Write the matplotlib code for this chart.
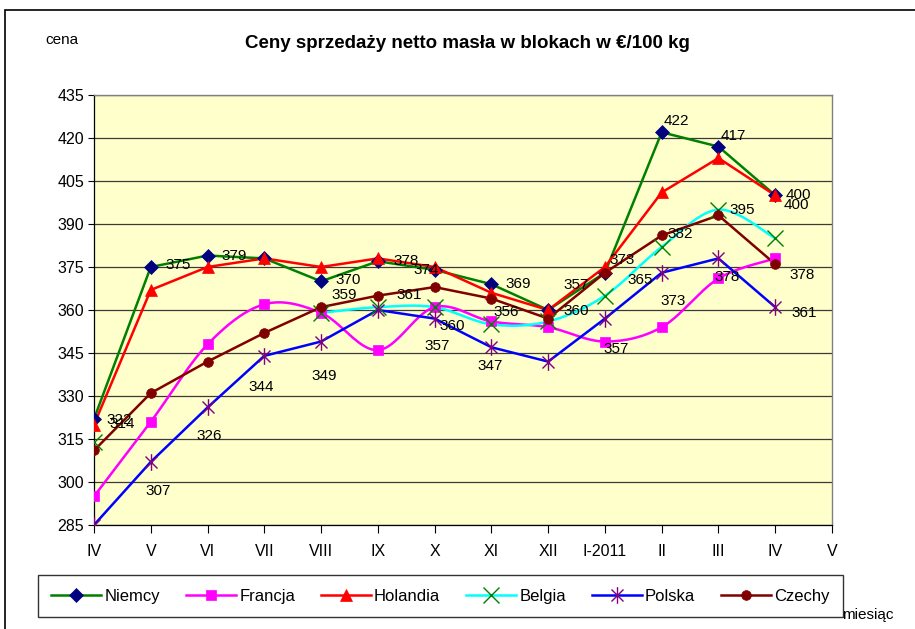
import numpy as np
import matplotlib
matplotlib.use("Agg")
import matplotlib.pyplot as plt
from matplotlib.path import Path
from matplotlib.lines import Line2D
from matplotlib.patches import Rectangle

plt.rcParams['font.family'] = ['Liberation Sans', 'DejaVu Sans']

# ---------------- data ----------------
months = ["IV", "V", "VI", "VII", "VIII", "IX", "X", "XI", "XII", "I-2011", "II", "III", "IV", "V"]
niemcy   = [322, 375, 379, 378, 370, 377, 374, 369, 360, 373, 422, 417, 400]
francja  = [295, 321, 348, 362, 359, 346, 361, 356, 354, 349, 354, 371, 378]
holandia = [320, 367, 375, 378, 375, 378, 375, 366, 360, 375, 401, 413, 400]
belgia   = [314, np.nan, np.nan, np.nan, 359, 361, 361, 355, 356, 365, 382, 395, 385]
polska   = [285, 307, 326, 344, 349, 360, 357, 347, 342, 357, 373, 378, 361]
czechy   = [311, 331, 342, 352, 361, 365, 368, 364, 357, 373, 386, 393, 376]
series_names = ["Niemcy", "Francja", "Holandia", "Belgia", "Polska", "Czechy"]
y_ticks = list(range(285, 436, 15))

# data labels: (series, month index, text, dx px, dy px)
labels = [
    ("Niemcy", 0, "322", 25, -1), ("Belgia", 0, "314", 28, 18),
    ("Niemcy", 1, "375", 27, 2), ("Niemcy", 2, "379", 27, 0),
    ("Niemcy", 4, "370", 27, 1), ("Niemcy", 5, "378", 28, 0),
    ("Niemcy", 6, "374", -8, 0), ("Niemcy", 7, "369", 27, 0),
    ("Niemcy", 8, "360", 28, -1), ("Niemcy", 9, "373", 17, 13),
    ("Niemcy", 10, "422", 15, 11), ("Niemcy", 11, "417", 15, 11),
    ("Niemcy", 12, "400", 23, 0), ("Holandia", 12, "400", 21, -10),
    ("Belgia", 4, "359", 23, 18), ("Belgia", 5, "361", 31, 12),
    ("Belgia", 6, "360", 18, -19), ("Belgia", 7, "356", 15, 12),
    ("Czechy", 8, "357", 28, 34), ("Belgia", 9, "365", 35, 16),
    ("Belgia", 10, "382", 19, 13), ("Belgia", 11, "395", 24, 0),
    ("Francja", 12, "378", 27, -17),
    ("Polska", 1, "307", 7, -29), ("Polska", 2, "326", 2, -29),
    ("Polska", 3, "344", -3, -31), ("Polska", 4, "349", 3, -34),
    ("Polska", 6, "357", 3, -27), ("Polska", 7, "347", -1, -19),
    ("Polska", 9, "357", 11, -30), ("Polska", 10, "373", 11, -28),
    ("Polska", 11, "378", 9, -19), ("Polska", 12, "361", 29, -6),
]

# ---------------- styles ----------------
star = Path([(0, -1), (0, 1), (-0.72, -0.72), (0.72, 0.72), (-0.72, 0.72), (0.72, -0.72)],
            [Path.MOVETO, Path.LINETO] * 3)
styles = {
    "Niemcy":   dict(color="#008000", marker="D", mfc="#000080", mec="#000080", ms=7, mew=0.5, smooth=False),
    "Francja":  dict(color="#FF00FF", marker="s", mfc="#FF00FF", mec="#FF00FF", ms=7, mew=0.5, smooth=True),
    "Holandia": dict(color="#FF0000", marker="^", mfc="#FF0000", mec="#FF0000", ms=9, mew=0.5, smooth=False),
    "Belgia":   dict(color="#00FFFF", marker="x", mfc="none", mec="#008000", ms=11, mew=1.0, smooth=True),
    "Polska":   dict(color="#0000FF", marker=star, mfc="none", mec="#800080", ms=12, mew=1.0, smooth=False),
    "Czechy":   dict(color="#800000", marker="o", mfc="#800000", mec="#800000", ms=7, mew=0.5, smooth=False),
}
data = dict(zip(series_names, [niemcy, francja, holandia, belgia, polska, czechy]))


def smooth_path(xs, ys, n=24):
    """Catmull-Rom style Bezier through the points of each non-NaN run."""
    xs = np.asarray(xs, float)
    ys = np.asarray(ys, float)
    outx, outy = [], []
    good = ~np.isnan(ys)
    runs, cur = [], []
    for i in range(len(ys)):
        if good[i]:
            cur.append(i)
        else:
            if cur:
                runs.append(cur)
            cur = []
    if cur:
        runs.append(cur)
    for run in runs:
        px, py = xs[run], ys[run]
        if len(run) < 2:
            continue
        for k in range(len(run) - 1):
            p0 = np.array([px[max(k - 1, 0)], py[max(k - 1, 0)]])
            p1 = np.array([px[k], py[k]])
            p2 = np.array([px[k + 1], py[k + 1]])
            p3 = np.array([px[min(k + 2, len(run) - 1)], py[min(k + 2, len(run) - 1)]])
            c1 = p1 + (p2 - p0) / 6.0
            c2 = p2 - (p3 - p1) / 6.0
            t = np.linspace(0, 1, n)[:, None]
            b = ((1 - t) ** 3) * p1 + 3 * ((1 - t) ** 2) * t * c1 + 3 * (1 - t) * t ** 2 * c2 + t ** 3 * p2
            outx.extend(b[:, 0])
            outy.extend(b[:, 1])
        outx.append(np.nan)
        outy.append(np.nan)
    return outx, outy


W, H = 915, 629
fig = plt.figure(figsize=(W / 100, H / 100), dpi=100)
fig.patch.set_facecolor("white")
ax = fig.add_axes([94 / W, 1 - 525 / H, (832 - 94) / W, (525 - 95) / H])
ax.set_facecolor("#FFFFCC")

x = np.arange(len(niemcy))
for name in series_names:
    st = styles[name]
    ys = np.asarray(data[name], float)
    if st["smooth"]:
        sx, sy = smooth_path(x, ys)
        ax.plot(sx, sy, color=st["color"], lw=1.8, zorder=3, solid_capstyle="round")
    else:
        ax.plot(x, ys, color=st["color"], lw=1.8, zorder=3)
    ax.plot(x, ys, ls="none", marker=st["marker"], ms=st["ms"], mfc=st["mfc"],
            mec=st["mec"], mew=st["mew"], zorder=4)

for name, i, txt, dx, dy in labels:
    ax.annotate(txt, (x[i], data[name][i]), xytext=(dx, dy), textcoords="offset pixels",
                ha="center", va="center", fontsize=11, color="black", zorder=6)

ax.set_xlim(0, len(months) - 1)
ax.set_ylim(285, 435)
ax.set_xticks(range(len(months)))
ax.set_xticklabels(months, fontsize=11.5)
ax.set_yticks(y_ticks)
ax.set_yticklabels([str(v) for v in y_ticks], fontsize=11.5)
ax.yaxis.grid(True, color="#3a3a3a", lw=0.9)
ax.set_axisbelow(True)
ax.tick_params(axis="x", direction="out", length=5.5, width=0.8, pad=8, colors="black")
ax.tick_params(axis="y", direction="out", length=4, width=0.8, pad=3, colors="black")
for s in ["left", "bottom"]:
    ax.spines[s].set_color("black")
    ax.spines[s].set_linewidth(0.9)
for s in ["top", "right"]:
    ax.spines[s].set_color("#808080")
    ax.spines[s].set_linewidth(1.0)

# titles and axis captions
fig.text(467 / W, 1 - 44 / H, "Ceny sprzedaży netto masła w blokach w €/100 kg",
         ha="center", va="center", fontsize=13.5, fontweight="bold")
fig.text(62 / W, 1 - 40 / H, "cena", ha="center", va="center", fontsize=11)
fig.text(868 / W, 1 - 615 / H, "miesiąc", ha="center", va="center", fontsize=11)

# legend
handles = []
for name in series_names:
    st = styles[name]
    handles.append(Line2D([0], [0], color=st["color"], lw=1.8, marker=st["marker"], ms=st["ms"],
                          mfc=st["mfc"], mec=st["mec"], mew=st["mew"]))
leg = fig.legend(handles, series_names, loc="lower left", ncol=6, mode="expand",
                 bbox_to_anchor=(38 / W, 1 - 617 / H, (843 - 38) / W, 41 / H),
                 frameon=True, fancybox=False, edgecolor="black", fontsize=12,
                 handlelength=3.0, handletextpad=0.2, borderpad=0.8, columnspacing=1.0,
                 borderaxespad=0)
leg.get_frame().set_linewidth(1.0)

# outer chart border (right side runs off the canvas)
fig.add_artist(Rectangle((5 / W, -0.01), (W + 10) / W, 1 - 10 / H + 0.01, transform=fig.transFigure,
                         fill=False, edgecolor="black", lw=1.2))

fig.savefig("out.png", dpi=100)
